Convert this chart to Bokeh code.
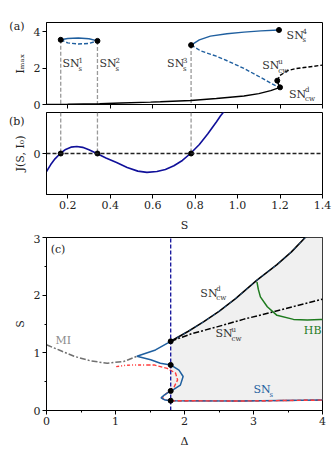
from bokeh.plotting import figure
from bokeh.models import (Range1d, FixedTicker, Label, Span, PrintfTickFormatter,
                          CustomJSTickFormatter, LinearAxis)
from bokeh.layouts import column
from bokeh.embed import file_html
from bokeh.resources import INLINE

FONT = "DejaVu Serif"
BLUE = "#1f5f9f"
NAVY = "#10109a"
GREEN = "#1e7b1e"
RED = "#ff3c3c"

# ---------------- panel (a) data ----------------
a_low_s = [0.1, 0.2, 0.35, 0.45, 0.59, 0.636, 0.78, 0.9, 1.03, 1.1, 1.156, 1.2]
a_low_i = [0.0, 0.01, 0.04, 0.08, 0.13, 0.15, 0.22, 0.33, 0.47, 0.6, 0.76, 0.94]
a_mid_s = [1.2, 1.192, 1.187]
a_mid_i = [0.94, 1.12, 1.31]
a_cwu_s = [1.187, 1.2, 1.235, 1.27, 1.313, 1.36, 1.4]
a_cwu_i = [1.31, 1.6, 1.85, 1.96, 2.03, 2.1, 2.16]
a_b1_up_s = [0.167, 0.2, 0.25, 0.3, 0.34]
a_b1_up_i = [3.55, 3.62, 3.65, 3.61, 3.49]
a_b1_lo_s = [0.167, 0.2, 0.25, 0.3, 0.34]
a_b1_lo_i = [3.55, 3.38, 3.32, 3.35, 3.49]
a_b2_up_s = [0.781, 0.82, 0.872, 0.95, 1.03, 1.11, 1.195]
a_b2_up_i = [3.26, 3.55, 3.75, 3.88, 3.97, 4.04, 4.09]
a_b2_lo_s = [0.781, 0.825, 0.9, 0.951, 1.03, 1.108, 1.16, 1.195]
a_b2_lo_i = [3.26, 2.95, 2.65, 2.4, 1.98, 1.49, 1.15, 0.94]
sn_s = [0.167, 0.34, 0.781, 1.195]
sn_i = [3.55, 3.49, 3.26, 4.09]
cw_s = [1.187, 1.2]
cw_i = [1.31, 0.94]

# ---------------- panel (b) data ----------------
b_s = [0.10, 0.12, 0.14, 0.165, 0.19, 0.215, 0.243, 0.27, 0.30, 0.337, 0.38, 0.43,
       0.48, 0.53, 0.573, 0.62, 0.66, 0.70, 0.74, 0.778, 0.82, 0.86, 0.90, 0.92, 0.945]
b_j = [-0.44, -0.27, -0.13, 0.0, 0.10, 0.155, 0.17, 0.15, 0.09, 0.0, -0.11, -0.22,
       -0.34, -0.43, -0.46, -0.44, -0.39, -0.30, -0.17, 0.0, 0.22, 0.48, 0.77, 0.92, 1.08]

# ---------------- panel (c) data ----------------
c_cwd_d = [1.8, 2.05, 2.28, 2.5, 2.74, 3.05, 3.34, 3.55, 3.75, 3.8]
c_cwd_s = [1.2, 1.37, 1.54, 1.72, 1.94, 2.26, 2.53, 2.75, 3.0, 3.06]
c_cwu_d = [1.8, 2.1, 2.47, 2.85, 3.25, 3.6, 4.0]
c_cwu_s = [1.2, 1.33, 1.45, 1.58, 1.70, 1.81, 1.93]
c_hb_d = [3.05, 3.07, 3.10, 3.2, 3.34, 3.58, 3.78, 3.97, 4.0]
c_hb_s = [2.23, 2.1, 1.97, 1.80, 1.65, 1.58, 1.57, 1.58, 1.58]
c_mi_d = [0.0, 0.2, 0.4, 0.64, 0.88, 1.12, 1.31]
c_mi_s = [1.14, 1.04, 0.94, 0.86, 0.82, 0.85, 0.94]
c_sn_d = [1.8, 1.58, 1.31, 1.51, 1.65, 1.8, 1.92, 1.98, 1.94, 1.85, 1.8, 1.71, 1.66, 1.72, 1.8, 2.81, 4.0]
c_sn_s = [1.2, 1.05, 0.94, 0.88, 0.82, 0.79, 0.70, 0.59, 0.44, 0.37, 0.34, 0.27, 0.22, 0.18, 0.17, 0.165, 0.18]
c_rdot_d = [1.01, 1.15, 1.31, 1.45]
c_rdot_s = [0.76, 0.785, 0.79, 0.79]
c_rdash_d = [1.45, 1.56, 1.75, 1.87, 1.90, 1.85, 1.77, 1.69, 1.68, 1.72, 1.8, 2.81, 4.0]
c_rdash_s = [0.79, 0.79, 0.73, 0.65, 0.53, 0.41, 0.33, 0.24, 0.21, 0.18, 0.17, 0.165, 0.18]
c_vline_d = 1.8
c_dots_s = [1.2, 0.79, 0.34, 0.17]


def style_axis(ax):
    ax.major_tick_in = 0
    ax.major_tick_out = 4
    ax.minor_tick_in = 0
    ax.minor_tick_out = 2
    ax.major_label_text_font = FONT
    ax.major_label_text_font_size = "11px"
    ax.major_label_text_color = "#222222"
    ax.axis_label_text_font = FONT
    ax.axis_label_text_font_size = "11px"
    ax.axis_label_text_font_style = "normal"
    ax.axis_label_text_color = "#222222"
    ax.axis_line_color = "black"
    ax.major_tick_line_color = "black"
    ax.minor_tick_line_color = "black"
    ax.major_label_standoff = 2
    ax.axis_label_standoff = 7


def style(p, xl="", yl=""):
    p.outline_line_color = "black"
    p.outline_line_width = 1
    p.xgrid.visible = False
    p.ygrid.visible = False
    p.background_fill_color = "white"
    p.border_fill_color = "white"
    style_axis(p.xaxis[0])
    style_axis(p.yaxis[0])
    p.yaxis[0].axis_label_standoff = 4
    p.xaxis.axis_label = xl
    p.yaxis.axis_label = yl


def panel_tag(p, yval, tag):
    ax = LinearAxis(ticker=FixedTicker(ticks=[yval]),
                    major_label_overrides={yval: tag})
    style_axis(ax)
    ax.axis_line_color = None
    ax.major_tick_line_color = None
    ax.minor_tick_line_color = None
    ax.major_tick_out = 0
    ax.major_label_standoff = -14
    p.add_layout(ax, "left")


def txt(p, x, y, t, color="#222222", size=11, xo=0, yo=0, align="left", base="middle"):
    p.add_layout(Label(x=x, y=y, x_offset=xo, y_offset=yo, text=t, text_font=FONT,
                       text_font_size=f"{size}px", text_color=color,
                       text_align=align, text_baseline=base))


def sn(p, x, y, sup, sub, color="#222222"):
    txt(p, x, y, "SN", color)
    if sup:
        txt(p, x, y, sup, color, size=7, xo=16, yo=4)
    txt(p, x, y, sub, color, size=7, xo=16, yo=-5)


ML = 46
FW = 276
MR = 10

# ---------------- (a) ----------------
pa = figure(frame_width=FW, frame_height=82, output_backend="svg", toolbar_location=None,
            x_range=Range1d(0.1, 1.4), y_range=Range1d(0, 4.5),
            min_border_left=ML, min_border_right=MR, min_border_top=22, min_border_bottom=8)
style(pa, "", "Iₘₐₓ")
pa.xaxis.ticker = FixedTicker(ticks=[0.2, 0.4, 0.6, 0.8, 1.0, 1.2, 1.4])
pa.xaxis.formatter = CustomJSTickFormatter(code="return ''")
pa.xaxis.major_label_standoff = 0
pa.yaxis.ticker = FixedTicker(ticks=[0, 2, 4])
panel_tag(pa, 4.28, "(a)")

pa.segment(x0=sn_s[:3], y0=sn_i[:3], x1=sn_s[:3], y1=[0, 0, 0], line_color="#999999",
           line_width=1.3, line_dash="4 2")
pa.line(a_low_s, a_low_i, line_color="black", line_width=1.4)
pa.line(a_mid_s, a_mid_i, line_color="black", line_width=1.4)
pa.line(a_cwu_s, a_cwu_i, line_color="black", line_width=1.4, line_dash="4 2")
pa.line(a_b1_up_s, a_b1_up_i, line_color=BLUE, line_width=1.4)
pa.line(a_b1_lo_s, a_b1_lo_i, line_color=BLUE, line_width=1.4, line_dash="4 2")
pa.line(a_b2_up_s, a_b2_up_i, line_color=BLUE, line_width=1.4)
pa.line(a_b2_lo_s, a_b2_lo_i, line_color=BLUE, line_width=1.4, line_dash="4 2")
pa.scatter(sn_s, sn_i, size=5, color="black")
pa.scatter(cw_s, cw_i, size=5, color="black")

sn(pa, 0.175, 2.23, "1", "s", "#333333")
sn(pa, 0.35, 2.23, "2", "s", "#333333")
sn(pa, 0.668, 2.23, "3", "s", "#333333")
sn(pa, 1.231, 3.8, "4", "s", "#333333")
sn(pa, 1.116, 2.14, "u", "cw", "#333333")
sn(pa, 1.242, 0.55, "d", "cw", "#333333")

# ---------------- (b) ----------------
pb = figure(frame_width=FW, frame_height=82, output_backend="svg", toolbar_location=None,
            x_range=Range1d(0.1, 1.4), y_range=Range1d(-1, 1),
            min_border_left=ML, min_border_right=MR, min_border_top=0, min_border_bottom=0)
style(pb, "S", "J(S, I₀)")
pb.xaxis.ticker = FixedTicker(ticks=[0.2, 0.4, 0.6, 0.8, 1.0, 1.2, 1.4])
pb.xaxis.formatter = PrintfTickFormatter(format="%.1f")
pb.yaxis.ticker = FixedTicker(ticks=[0])
panel_tag(pb, 0.9, "(b)")
pb.segment(x0=sn_s[:3], y0=[1, 1, 1], x1=sn_s[:3], y1=[0, 0, 0], line_color="#999999",
           line_width=1.3, line_dash="4 2")
pb.add_layout(Span(location=0, dimension="width", line_color="#222222", line_width=1.4,
                   line_dash="4 2"))
pb.line(b_s, b_j, line_color=NAVY, line_width=1.6)
pb.scatter(sn_s[:3], [0, 0, 0], size=5, color="black")

# ---------------- (c) ----------------
pc = figure(frame_width=FW, frame_height=173, output_backend="svg", toolbar_location=None,
            x_range=Range1d(0, 4), y_range=Range1d(0, 3),
            min_border_left=ML, min_border_right=MR, min_border_top=3, min_border_bottom=0)
style(pc, "Δ", "S")
pc.xaxis.ticker = FixedTicker(ticks=[0, 1, 2, 3, 4], minor_ticks=[0.5, 1.5, 2.5, 3.5])
pc.yaxis.ticker = FixedTicker(ticks=[0, 1, 2, 3], minor_ticks=[0.5, 1.5, 2.5])

fill_x = [c_vline_d] + c_cwd_d[:9] + [4.0, 4.0, c_vline_d]
fill_y = [c_sn_s[14]] + c_cwd_s[:9] + [3.0, c_sn_s[-1], c_sn_s[14]]
pc.patch(fill_x, fill_y, fill_color="#f0f0f0", line_color=None)

pc.line(c_mi_d, c_mi_s, line_color="#707070", line_width=1.5, line_dash="6 2 2 2")
pc.line(c_rdot_d, c_rdot_s, line_color=RED, line_width=1.4, line_dash="3 2 1 2 1 2")
pc.line(c_rdash_d, c_rdash_s, line_color=RED, line_width=1.4, line_dash="4 2")
pc.line(c_sn_d, c_sn_s, line_color=BLUE, line_width=1.5)
pc.line(c_rdash_d[10:], c_rdash_s[10:], line_color=RED, line_width=1.4, line_dash="4 3")
pc.line(c_cwu_d, c_cwu_s, line_color="black", line_width=1.5, line_dash="6 2 2 2")
pc.line(c_cwd_d, c_cwd_s, line_color="black", line_width=1.6)
pc.line(c_cwd_d, c_cwd_s, line_color=BLUE, line_width=0.8, line_dash="3 4")
pc.line(c_hb_d, c_hb_s, line_color=GREEN, line_width=1.5)
pc.segment(x0=[c_vline_d], y0=[0], x1=[c_vline_d], y1=[3], line_color=NAVY, line_width=1.3,
           line_dash="4 2")
pc.scatter([c_vline_d] * 4, c_dots_s, size=5, color="black")

txt(pc, 0.06, 2.8, "(c)")
sn(pc, 2.23, 2.03, "d", "cw", "#333333")
sn(pc, 2.45, 1.33, "u", "cw", "#333333")
txt(pc, 3.73, 1.38, "HB", color=GREEN)
sn(pc, 3.0, 0.36, "", "s", BLUE)
txt(pc, 0.13, 1.22, "MI", color="#8c8c8c")

lay = column(pa, pb, pc, spacing=0)
open("out.html", "w").write(file_html(lay, INLINE))
